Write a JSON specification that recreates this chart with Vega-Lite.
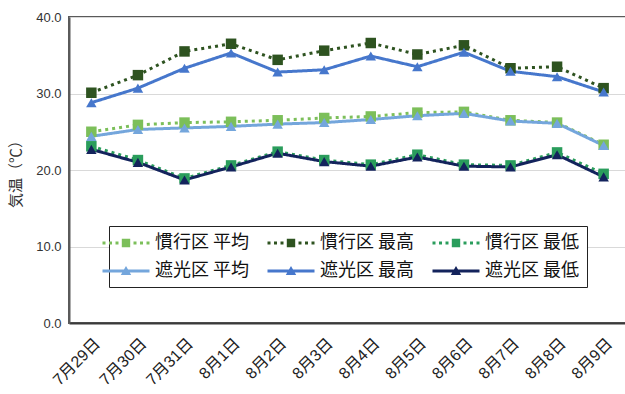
{
  "$schema": "https://vega.github.io/schema/vega-lite/v6.json",
  "autosize": "none",
  "padding": {"left": 69, "top": 17, "right": 0, "bottom": 71},
  "width": 557,
  "height": 306,
  "background": "white",
  "config": {
    "font": "'Liberation Sans', 'Noto Sans CJK JP', sans-serif",
    "view": {"stroke": "#5a5a5a", "strokeWidth": 2},
    "axis": {
      "labelFont": "'Liberation Sans', 'Noto Sans CJK JP', sans-serif",
      "titleFont": "'Noto Sans CJK JP', sans-serif",
      "labelColor": "#333",
      "titleColor": "#333",
      "ticks": false
    }
  },
  "datasets": {
    "temps": [
      {"d": "7月29日", "s": "慣行区 平均", "v": 25.0}, {"d": "7月30日", "s": "慣行区 平均", "v": 25.9}, {"d": "7月31日", "s": "慣行区 平均", "v": 26.2}, {"d": "8月1日", "s": "慣行区 平均", "v": 26.3}, {"d": "8月2日", "s": "慣行区 平均", "v": 26.5}, {"d": "8月3日", "s": "慣行区 平均", "v": 26.8}, {"d": "8月4日", "s": "慣行区 平均", "v": 27.0}, {"d": "8月5日", "s": "慣行区 平均", "v": 27.5}, {"d": "8月6日", "s": "慣行区 平均", "v": 27.6}, {"d": "8月7日", "s": "慣行区 平均", "v": 26.5}, {"d": "8月8日", "s": "慣行区 平均", "v": 26.2}, {"d": "8月9日", "s": "慣行区 平均", "v": 23.3},
      {"d": "7月29日", "s": "慣行区 最高", "v": 30.1}, {"d": "7月30日", "s": "慣行区 最高", "v": 32.4}, {"d": "7月31日", "s": "慣行区 最高", "v": 35.5}, {"d": "8月1日", "s": "慣行区 最高", "v": 36.5}, {"d": "8月2日", "s": "慣行区 最高", "v": 34.4}, {"d": "8月3日", "s": "慣行区 最高", "v": 35.6}, {"d": "8月4日", "s": "慣行区 最高", "v": 36.6}, {"d": "8月5日", "s": "慣行区 最高", "v": 35.1}, {"d": "8月6日", "s": "慣行区 最高", "v": 36.3}, {"d": "8月7日", "s": "慣行区 最高", "v": 33.3}, {"d": "8月8日", "s": "慣行区 最高", "v": 33.5}, {"d": "8月9日", "s": "慣行区 最高", "v": 30.7},
      {"d": "7月29日", "s": "慣行区 最低", "v": 23.1}, {"d": "7月30日", "s": "慣行区 最低", "v": 21.3}, {"d": "7月31日", "s": "慣行区 最低", "v": 18.9}, {"d": "8月1日", "s": "慣行区 最低", "v": 20.6}, {"d": "8月2日", "s": "慣行区 最低", "v": 22.4}, {"d": "8月3日", "s": "慣行区 最低", "v": 21.3}, {"d": "8月4日", "s": "慣行区 最低", "v": 20.7}, {"d": "8月5日", "s": "慣行区 最低", "v": 22.0}, {"d": "8月6日", "s": "慣行区 最低", "v": 20.7}, {"d": "8月7日", "s": "慣行区 最低", "v": 20.6}, {"d": "8月8日", "s": "慣行区 最低", "v": 22.3}, {"d": "8月9日", "s": "慣行区 最低", "v": 19.5},
      {"d": "7月29日", "s": "遮光区 平均", "v": 24.4}, {"d": "7月30日", "s": "遮光区 平均", "v": 25.3}, {"d": "7月31日", "s": "遮光区 平均", "v": 25.5}, {"d": "8月1日", "s": "遮光区 平均", "v": 25.7}, {"d": "8月2日", "s": "遮光区 平均", "v": 26.0}, {"d": "8月3日", "s": "遮光区 平均", "v": 26.2}, {"d": "8月4日", "s": "遮光区 平均", "v": 26.6}, {"d": "8月5日", "s": "遮光区 平均", "v": 27.1}, {"d": "8月6日", "s": "遮光区 平均", "v": 27.4}, {"d": "8月7日", "s": "遮光区 平均", "v": 26.4}, {"d": "8月8日", "s": "遮光区 平均", "v": 26.1}, {"d": "8月9日", "s": "遮光区 平均", "v": 23.2},
      {"d": "7月29日", "s": "遮光区 最高", "v": 28.8}, {"d": "7月30日", "s": "遮光区 最高", "v": 30.7}, {"d": "7月31日", "s": "遮光区 最高", "v": 33.3}, {"d": "8月1日", "s": "遮光区 最高", "v": 35.3}, {"d": "8月2日", "s": "遮光区 最高", "v": 32.8}, {"d": "8月3日", "s": "遮光区 最高", "v": 33.1}, {"d": "8月4日", "s": "遮光区 最高", "v": 34.9}, {"d": "8月5日", "s": "遮光区 最高", "v": 33.5}, {"d": "8月6日", "s": "遮光区 最高", "v": 35.4}, {"d": "8月7日", "s": "遮光区 最高", "v": 32.9}, {"d": "8月8日", "s": "遮光区 最高", "v": 32.2}, {"d": "8月9日", "s": "遮光区 最高", "v": 30.2},
      {"d": "7月29日", "s": "遮光区 最低", "v": 22.7}, {"d": "7月30日", "s": "遮光区 最低", "v": 21.0}, {"d": "7月31日", "s": "遮光区 最低", "v": 18.7}, {"d": "8月1日", "s": "遮光区 最低", "v": 20.4}, {"d": "8月2日", "s": "遮光区 最低", "v": 22.2}, {"d": "8月3日", "s": "遮光区 最低", "v": 21.1}, {"d": "8月4日", "s": "遮光区 最低", "v": 20.5}, {"d": "8月5日", "s": "遮光区 最低", "v": 21.7}, {"d": "8月6日", "s": "遮光区 最低", "v": 20.5}, {"d": "8月7日", "s": "遮光区 最低", "v": 20.4}, {"d": "8月8日", "s": "遮光区 最低", "v": 22.0}, {"d": "8月9日", "s": "遮光区 最低", "v": 19.1}
    ]
  },
  "data": {"name": "temps"},
  "encoding": {
    "x": {
      "field": "d", "type": "ordinal", "sort": null,
      "scale": {"type": "point", "padding": 0.48},
      "axis": {
        "title": null, "labelAngle": -45, "labelFontSize": 16, "labelPadding": 12,
        "labelColor": "#222",
        "grid": false, "domainColor": "#3a3a3a", "domainWidth": 2
      }
    },
    "y": {
      "field": "v", "type": "quantitative",
      "scale": {"domain": [0, 40], "nice": false},
      "axis": {
        "title": "気温（℃）", "values": [0, 10, 20, 30, 40], "format": ".1f",
        "labelFontSize": 13, "labelPadding": 8, "titleFontSize": 15, "titlePadding": 12,
        "titleFontWeight": "normal",
        "gridColor": "#d9d9d9", "gridWidth": 1, "domainColor": "#5a5a5a", "domainWidth": 2
      }
    },
    "color": {
      "field": "s", "type": "nominal",
      "scale": {
        "domain": ["慣行区 平均", "慣行区 最高", "慣行区 最低", "遮光区 平均", "遮光区 最高", "遮光区 最低"],
        "range": ["#7cbf5a", "#2e5320", "#2a9d5c", "#74a6dc", "#4677cc", "#13235c"]
      },
      "legend": {
        "title": null, "orient": "none", "legendX": 40, "legendY": 209,
        "direction": "horizontal", "columns": 3,
        "labelFont": "'Noto Sans CJK JP', sans-serif", "labelFontSize": 18, "labelColor": "#111",
        "labelOffset": 19, "columnPadding": 17, "rowPadding": 9,
        "symbolSize": 400, "symbolStrokeWidth": 0, "symbolOpacity": 1,
        "padding": 7, "strokeColor": "#222", "fillColor": "white",
        "labelLimit": 200,
        "encode": {
          "symbols": {
            "update": {
              "shape": {"signal": "indexof(datum.value, '慣行区') >= 0 ? 'M-2.35,-0.15h0.3v0.3h-0.3Z M-1.7,-0.15h0.3v0.3h-0.3Z M-1.05,-0.15h0.3v0.3h-0.3Z M0.75,-0.15h0.3v0.3h-0.3Z M1.4,-0.15h0.3v0.3h-0.3Z M2.05,-0.15h0.3v0.3h-0.3Z M-0.42,-0.42h0.84v0.84h-0.84Z' : 'M-2.35,-0.16H2.35V0.16H-2.35Z M0,-0.5L0.52,0.4L-0.52,0.4Z'"},
              "fill": {"scale": "color", "field": "value"},
              "fillOpacity": {"value": 1},
              "strokeWidth": {"value": 0}
            }
          }
        }
      }
    }
  },
  "layer": [
    {
      "mark": {"type": "line", "strokeWidth": 3},
      "encoding": {
        "strokeDash": {
          "field": "s", "type": "nominal", "legend": null,
          "scale": {
            "domain": ["慣行区 平均", "慣行区 最高", "慣行区 最低", "遮光区 平均", "遮光区 最高", "遮光区 最低"],
            "range": [[3, 4], [3, 4], [3, 4], [1, 0], [1, 0], [1, 0]]
          }
        }
      }
    },
    {
      "transform": [{"filter": "indexof(datum.s, '慣行区') >= 0"}],
      "mark": {"type": "point", "shape": "square", "filled": true, "size": 110, "opacity": 1}
    },
    {
      "transform": [{"filter": "indexof(datum.s, '遮光区') >= 0"}],
      "mark": {"type": "point", "shape": "triangle-up", "filled": true, "size": 110, "opacity": 1}
    }
  ]
}
